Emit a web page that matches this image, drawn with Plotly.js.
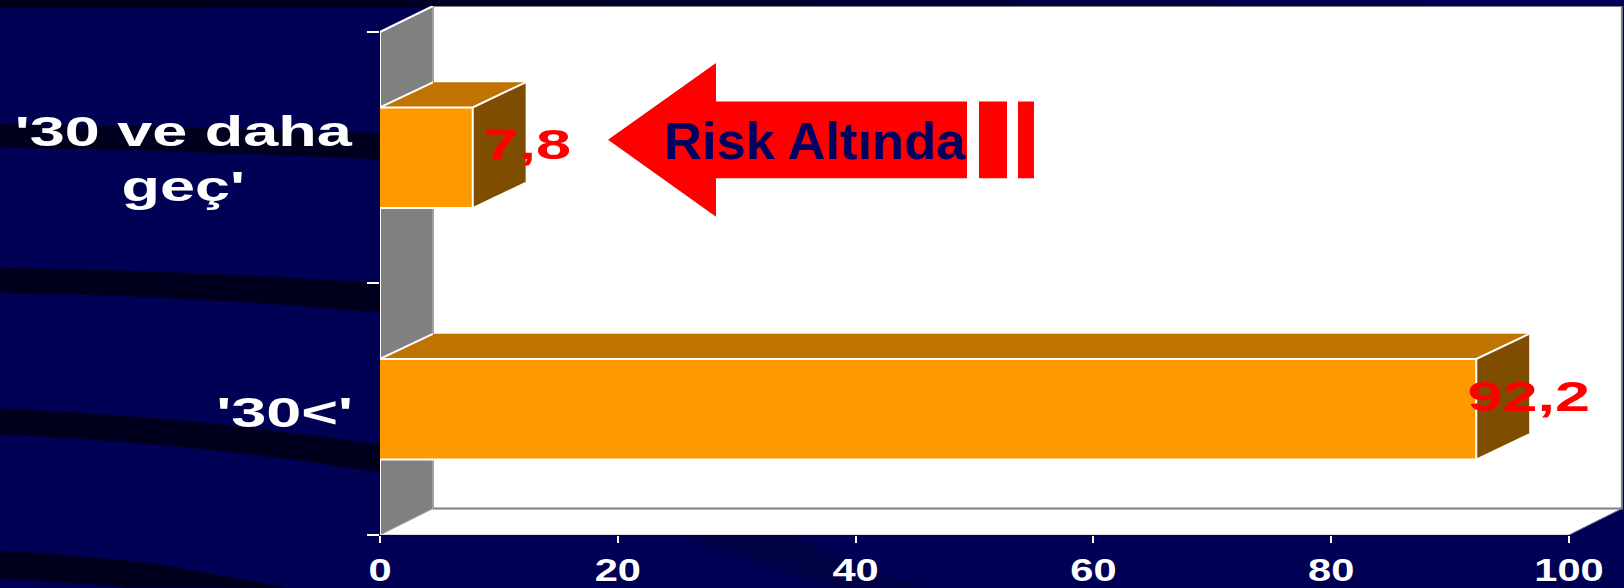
<!DOCTYPE html>
<html>
<head>
<meta charset="utf-8">
<script src="https://cdn.plot.ly/plotly-3.0.1.min.js"></script>
<style>html,body{margin:0;padding:0;background:#000055;overflow:hidden}#chart{width:1624px;height:588px}</style>
</head>
<body>
<div id="chart"></div>
<script>
const categories = ["'30<'", "'30 ve daha<br>geç'"];
const values = [92.2, 7.8];
const valueLabels = ["92,2", "7,8"];
const xTickVals = [0, 20, 40, 60, 80, 100];
const calloutText = "Risk Altında";

const W = 1624, H = 588, L = 380, B = 535.5, T = 6;
const X = p => (p - L) / (W - L);
const Y = p => (B - p) / (B - T);
const xMax = (W - L) / 11.89;
const yMin = -0.5, yMax = 1.6033;
const dx = 4.45, dyWall = 0.105, dyBar = 0.1, barHalf = 0.2;
const NAVY = '#000055', BAND = '#00001e', FONT = 'Liberation Sans, Arial, sans-serif';

const paperPath = cmds => cmds.map(c => c[0] + ' ' + c.slice(1).reduce((a, v, i) => a.concat(i % 2 ? Y(v) : X(v)), []).join(' ')).join(' ') + ' Z';
const deco = (cmds, color, layer) => ({type:'path', xref:'paper', yref:'paper', path:paperPath(cmds), fillcolor:color, line:{width:0}, layer:layer||'below'});
const band = (x0t,x0b,xe,yet,yeb,cy) => deco([['M',0,x0t],['Q',xe/2,x0t+cy,xe,yet],['L',xe,yeb],['Q',xe/2,x0b+cy,0,x0b]], BAND);

const shapes = [];
const strip = ['#000018','#00001c','#000022','#00002c','#000038','#000044','#00004e','#000058'];
strip.forEach((c,i)=>shapes.push(deco([['M',i*203,0],['L',(i+1)*203+1,0],['L',(i+1)*203+1,8],['L',i*203,8]],c)));
shapes.push(band(124,148,380,133,160,2));
shapes.push(band(268,293,380,283,313,3));
shapes.push(band(409,435,380,445,473,8));
shapes.push(deco([['M',0,551],['Q',110,558,160,565],['L',287,588],['L',128,588],['Q',60,582,0,579]],BAND));
shapes.push(deco([['M',676,534],['L',784,534],['L',918,588],['L',829,588]],'#000044'));

const dataPath = pts => 'M ' + pts.map(p=>p.join(' ')).join(' L ') + ' Z';
const seg = (x0,y0,x1,y1,color,width) => ({type:'line',xref:'x',yref:'y',x0,y0,x1,y1,line:{color,width},layer:'below'});
shapes.push({type:'path',xref:'x',yref:'y',path:dataPath([[0,yMin],[dx,yMin+dyWall],[100+dx,yMin+dyWall],[100,yMin]]),fillcolor:'#ffffff',line:{width:0},layer:'below'});
shapes.push({type:'path',xref:'x',yref:'y',path:dataPath([[dx,yMin+dyWall],[dx,yMax],[100+dx,yMax],[100+dx,yMin+dyWall]]),fillcolor:'#ffffff',line:{color:'#808080',width:2},layer:'below'});
shapes.push({type:'path',xref:'x',yref:'y',path:dataPath([[0,yMin],[0,1.5],[dx,yMax],[dx,yMin+dyWall]]),fillcolor:'#808080',line:{width:0},layer:'below'});
shapes.push(seg(dx,yMin+dyWall,dx,yMax,'#a0a0a0',2));
shapes.push(seg(0,1.5,dx,yMax,'#ffffff',2));
shapes.push(seg(0,yMin,dx,yMin+dyWall,'#b0b0b0',1));
shapes.push(seg(100,yMin,100+dx,yMin+dyWall,'#707090',1));
shapes.push(seg(0,yMin,0,1.5,'#ffffff',2));
shapes.push(seg(0,yMin,100,yMin,'#dcdcdc',2));
shapes.push(deco([['M',608,140],['L',716,63],['L',716,101.5],['L',967,101.5],['L',967,178.5],['L',716,178.5],['L',716,217]],'#ff0000','above'));
shapes.push(deco([['M',979,101.5],['L',1007,101.5],['L',1007,178.5],['L',979,178.5]],'#ff0000','above'));
shapes.push(deco([['M',1018,101.5],['L',1034,101.5],['L',1034,178.5],['L',1018,178.5]],'#ff0000','above'));

const idx = categories.map((_,i)=>i);
const face = (xs,ys,color) => ({type:'scatter',mode:'lines',x:xs,y:ys,fill:'toself',fillcolor:color,line:{width:0},hoverinfo:'skip'});
const traces = [{type:'bar',orientation:'h',x:values,y:idx,width:barHalf*2,marker:{color:'#ff9900',line:{width:0}},hoverinfo:'skip'}];
values.forEach((v,i)=>{
  const t=i+barHalf,b=i-barHalf;
  traces.push(face([0,v,v+dx,dx,0],[t,t,t+dyBar,t+dyBar,t],'#bf7300'));
  traces.push(face([v,v+dx,v+dx,v,v],[t,t+dyBar,b+dyBar,b,t],'#7f4d00'));
});
const lx=[],ly=[];
values.forEach((v,i)=>{
  const t=i+barHalf,b=i-barHalf;
  lx.push(dx,0,v,v+dx,null,v,v,null,0,v,null); ly.push(t+dyBar,t,t,t+dyBar,null,t,b,null,b,b,null);
  lx.push(v,v+dx,null); ly.push(b,b+dyBar,null);
});
traces.push({type:'scatter',mode:'lines',x:lx,y:ly,line:{color:'#ffffff',width:2},hoverinfo:'skip',connectgaps:false});

const annotations = [];
categories.forEach((c,i)=>annotations.push({xref:'paper',yref:'y',x:X(i===0?284:183),y:i,text:'<b>'+c+'</b>',showarrow:false,xanchor:'center',yanchor:'middle',align:'center',font:{family:FONT,size:42,color:'#ffffff'},yshift:i===0?-3:-1}));
values.forEach((v,i)=>annotations.push({xref:'x',yref:'y',x:v,y:i,text:'<b>'+valueLabels[i]+'</b>',showarrow:false,xanchor:'center',yanchor:'middle',xshift:i===0?53:54,yshift:13,font:{family:FONT,size:42,color:'#ff0000'}}));
annotations.push({xref:'paper',yref:'paper',x:X(815),y:Y(141),text:'<b>'+calloutText+'</b>',showarrow:false,xanchor:'center',yanchor:'middle',font:{family:FONT,size:52.5,color:'#000060'}});

const layout = {
  width:W,height:H,margin:{l:L,r:0,t:T,b:H-B,pad:0},
  paper_bgcolor:NAVY,plot_bgcolor:'rgba(0,0,0,0)',showlegend:false,
  xaxis:{range:[0,xMax],tickmode:'array',tickvals:xTickVals,ticktext:xTickVals.map(String),ticks:'outside',ticklen:7,tickwidth:2,tickcolor:'#ffffff',showgrid:false,zeroline:false,showline:false,tickfont:{family:FONT,size:32,color:'#ffffff',weight:700},ticklabelstandoff:0},
  yaxis:{range:[yMin,yMax],tickmode:'array',tickvals:[-0.5,0.5,1.5],ticktext:['','',''],ticks:'outside',ticklen:12,tickwidth:2,tickcolor:'#ffffff',showgrid:false,zeroline:false,showline:false},
  shapes,annotations,bargap:0
};
const gd=document.getElementById('chart');
const stretch=(el,s)=>{const b=el.getBBox();const cx=b.x+b.width/2;const old=el.getAttribute('transform')||'';el.setAttribute('transform',(old+' translate('+cx+',0) scale('+s+',1) translate('+(-cx)+',0)').trim());};
Plotly.newPlot(gd,traces,layout,{displayModeBar:false,staticPlot:true}).then(()=>{
  gd.querySelectorAll('.annotation-text').forEach(el=>{ if(el.textContent.indexOf('Risk')<0) stretch(el,1.5); });
  gd.querySelectorAll('.xtick text').forEach(el=>stretch(el,1.3));
});
</script>
</body>
</html>
